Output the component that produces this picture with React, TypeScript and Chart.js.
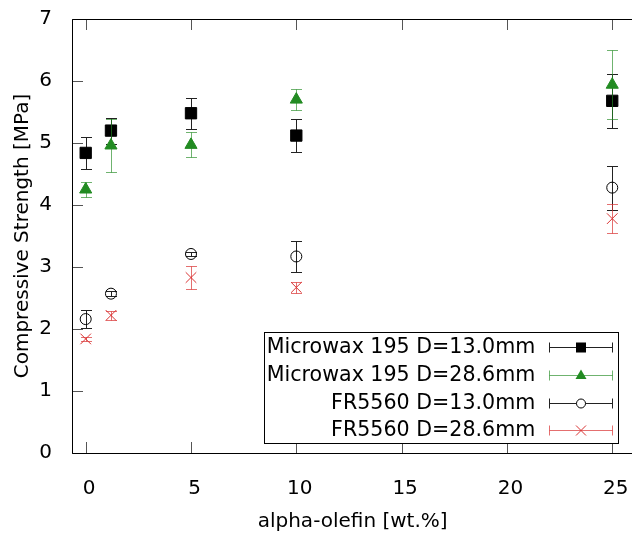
import React, { useEffect, useRef } from 'react';
import { Chart, registerables } from 'chart.js';

Chart.register(...registerables);

// ---- data ----
const xValues = [0, 1.2, 5, 10, 25];
const seriesLabels = [
  'Microwax 195 D=13.0mm',
  'Microwax 195 D=28.6mm',
  'FR5560 D=13.0mm',
  'FR5560 D=28.6mm',
];
const mw13Values = [4.84, 5.2, 5.48, 5.12, 5.68];
const mw13Errors = [0.26, 0.21, 0.25, 0.27, 0.43];
const mw286Values = [4.25, 4.96, 4.97, 5.7, 5.94];
const mw286Errors = [0.125, 0.42, 0.2, 0.17, 0.56];
const fr13Values = [2.16, 2.57, 3.21, 3.17, 4.28];
const fr13Errors = [0.145, 0.04, 0.04, 0.245, 0.355];
const fr286Values = [1.84, 2.22, 2.83, 2.67, 3.78];
const fr286Errors = [0.03, 0.075, 0.18, 0.095, 0.23];
const xAxisTitle = 'alpha-olefin [wt.%]';
const yAxisTitle = 'Compressive Strength [MPa]';

const FONT = "'DejaVu Sans', 'Liberation Sans', sans-serif";
const GREEN = '#228B22';
const RED = '#d93232';

function buildPoints(values: number[], errors: number[]) {
  return xValues.map((x, i) => ({ x, y: values[i], e: errors[i] }));
}

function drawMarker(ctx: CanvasRenderingContext2D, kind: string, x: number, y: number) {
  ctx.save();
  ctx.lineWidth = 1;
  if (kind === 'rect') {
    ctx.fillStyle = '#000';
    ctx.fillRect(x - 5, y - 5, 10, 10);
  } else if (kind === 'triangle') {
    ctx.fillStyle = GREEN;
    ctx.beginPath();
    ctx.moveTo(x, y - 6);
    ctx.lineTo(x + 5.5, y + 3.5);
    ctx.lineTo(x - 5.5, y + 3.5);
    ctx.closePath();
    ctx.fill();
  } else if (kind === 'circle') {
    ctx.strokeStyle = '#000';
    ctx.fillStyle = '#fff';
    ctx.beginPath();
    ctx.arc(x, y, 4.5, 0, Math.PI * 2);
    ctx.fill();
    ctx.stroke();
  } else {
    ctx.strokeStyle = RED;
    ctx.beginPath();
    ctx.moveTo(x - 5, y - 5);
    ctx.lineTo(x + 5, y + 5);
    ctx.moveTo(x + 5, y - 5);
    ctx.lineTo(x - 5, y + 5);
    ctx.stroke();
  }
  ctx.restore();
}

const errorBarPlugin = {
  id: 'errorBars',
  beforeDatasetDraw(chart: any, args: any) {
    const ds = chart.data.datasets[args.index];
    const meta = args.meta;
    const yScale = chart.scales.y;
    const ctx = chart.ctx as CanvasRenderingContext2D;
    ctx.save();
    ctx.strokeStyle = ds.errorColor;
    ctx.lineWidth = 1;
    meta.data.forEach((el: any, i: number) => {
      const raw = ds.data[i];
      const px = Math.round(el.x) + 0.5;
      const top = Math.round(yScale.getPixelForValue(raw.y + raw.e)) + 0.5;
      const bot = Math.round(yScale.getPixelForValue(raw.y - raw.e)) + 0.5;
      ctx.beginPath();
      ctx.moveTo(px, top);
      ctx.lineTo(px, bot);
      ctx.moveTo(px - 5.5, top);
      ctx.lineTo(px + 5.5, top);
      ctx.moveTo(px - 5.5, bot);
      ctx.lineTo(px + 5.5, bot);
      ctx.stroke();
    });
    ctx.restore();
  },
};

const framePlugin = {
  id: 'frame',
  afterDatasetsDraw(chart: any) {
    const { ctx, chartArea } = chart;
    const { left, right, top, bottom } = chartArea;
    const xs = chart.scales.x;
    const ys = chart.scales.y;
    const tl = 11;
    ctx.save();
    ctx.strokeStyle = '#555';
    ctx.lineWidth = 1;
    ctx.beginPath();
    xs.ticks.forEach((t: any) => {
      const px = Math.round(xs.getPixelForValue(t.value)) + 0.5;
      ctx.moveTo(px, bottom);
      ctx.lineTo(px, bottom - tl);
      ctx.moveTo(px, top);
      ctx.lineTo(px, top + tl);
    });
    ys.ticks.forEach((t: any) => {
      const py = Math.round(ys.getPixelForValue(t.value)) + 0.5;
      ctx.moveTo(left, py);
      ctx.lineTo(left + tl, py);
    });
    ctx.stroke();
    ctx.strokeStyle = '#000';
    const l = Math.round(left) + 0.5;
    const t0 = Math.round(top) + 0.5;
    const b = Math.round(bottom) + 0.5;
    const r = Math.round(right) + 0.5;
    ctx.beginPath();
    ctx.moveTo(r, t0);
    ctx.lineTo(l, t0);
    ctx.lineTo(l, b);
    ctx.lineTo(r, b);
    ctx.lineTo(r, t0);
    ctx.stroke();
    ctx.restore();
  },
};

const legendPlugin = {
  id: 'boxLegend',
  afterDraw(chart: any) {
    const { ctx, chartArea } = chart;
    const bx1 = chartArea.right - 16;
    const by1 = chartArea.bottom - 10;
    const bx0 = bx1 - 353.5;
    const by0 = by1 - 111;
    ctx.save();
    ctx.fillStyle = '#fff';
    ctx.fillRect(bx0, by0, bx1 - bx0, by1 - by0);
    ctx.strokeStyle = '#000';
    ctx.lineWidth = 1;
    ctx.strokeRect(Math.round(bx0) + 0.5, Math.round(by0) + 0.5, Math.round(bx1 - bx0), Math.round(by1 - by0));
    ctx.font = `20.6px ${FONT}`;
    ctx.textAlign = 'right';
    ctx.textBaseline = 'middle';
    chart.data.datasets.forEach((ds: any, i: number) => {
      const cy = Math.round(by0 + 15 + 27.8 * i) + 0.5;
      ctx.fillStyle = '#000';
      ctx.fillText(ds.label, bx1 - 82, cy);
      const s0 = Math.round(bx1 - 68.5) + 0.5;
      const s1 = Math.round(bx1 - 5.5) + 0.5;
      ctx.strokeStyle = ds.errorColor;
      ctx.beginPath();
      ctx.moveTo(s0, cy);
      ctx.lineTo(s1, cy);
      ctx.moveTo(s0, cy - 5);
      ctx.lineTo(s0, cy + 5);
      ctx.moveTo(s1, cy - 5);
      ctx.lineTo(s1, cy + 5);
      ctx.stroke();
      drawMarker(ctx, ds.legendMarker, (s0 + s1) / 2, cy);
    });
    ctx.restore();
  },
};

export default function App() {
  const canvasRef = useRef<HTMLCanvasElement | null>(null);

  useEffect(() => {
    if (!canvasRef.current) return;
    const tickFont = { family: FONT, size: 20 };
    const chart = new Chart(canvasRef.current, {
      type: 'scatter',
      data: {
        datasets: [
          {
            label: seriesLabels[0],
            data: buildPoints(mw13Values, mw13Errors),
            pointStyle: 'rect',
            pointRadius: 8,
            backgroundColor: '#000',
            borderColor: '#000',
            borderWidth: 1,
            errorColor: '#222',
            legendMarker: 'rect',
            order: 3,
          },
          {
            label: seriesLabels[1],
            data: buildPoints(mw286Values, mw286Errors),
            pointStyle: 'triangle',
            pointRadius: 7,
            backgroundColor: GREEN,
            borderColor: GREEN,
            borderWidth: 1,
            errorColor: 'rgba(34,139,34,0.65)',
            legendMarker: 'triangle',
            order: 2,
          },
          {
            label: seriesLabels[2],
            data: buildPoints(fr13Values, fr13Errors),
            pointStyle: 'circle',
            pointRadius: 5.5,
            backgroundColor: 'rgba(0,0,0,0)',
            borderColor: '#000',
            borderWidth: 1,
            errorColor: '#222',
            legendMarker: 'circle',
            order: 1,
          },
          {
            label: seriesLabels[3],
            data: buildPoints(fr286Values, fr286Errors),
            pointStyle: 'crossRot',
            pointRadius: 7.5,
            backgroundColor: RED,
            borderColor: RED,
            borderWidth: 1,
            errorColor: 'rgba(217,50,50,0.7)',
            legendMarker: 'cross',
            order: 0,
          },
        ] as any,
      },
      options: {
        animation: false,
        responsive: false,
        devicePixelRatio: 1,
        layout: { padding: { left: 0, top: 19, right: 26.7, bottom: 0 } },
        plugins: {
          legend: { display: false },
          tooltip: { enabled: false },
        },
        scales: {
          x: {
            type: 'linear',
            min: -0.65,
            max: 26,
            afterFit: (s: any) => {
              s.height = 82;
              s.paddingLeft = 0;
              s.paddingRight = 0;
            },
            grid: { display: false, drawTicks: false },
            border: { display: false },
            ticks: {
              stepSize: 5,
              includeBounds: false,
              autoSkip: false,
              maxRotation: 0,
              color: '#000',
              font: tickFont,
              padding: 24,
              labelOffset: 3.5,
            },
            title: {
              display: true,
              text: xAxisTitle,
              color: '#000',
              font: tickFont,
              padding: { top: 0, bottom: 1 },
            },
          },
          y: {
            type: 'linear',
            min: 0,
            max: 7,
            afterFit: (s: any) => {
              s.width = 72;
              s.paddingTop = 0;
              s.paddingBottom = 0;
            },
            grid: { display: false, drawTicks: false },
            border: { display: false },
            ticks: {
              stepSize: 1,
              color: '#000',
              font: tickFont,
              padding: 20,
            },
            title: {
              display: true,
              text: yAxisTitle,
              color: '#000',
              font: tickFont,
              padding: { top: 11, bottom: 0 },
            },
          },
        },
      } as any,
      plugins: [errorBarPlugin, framePlugin, legendPlugin],
    });
    return () => chart.destroy();
  }, []);

  return (
    <div
      style={{
        position: 'fixed',
        left: 0,
        top: 0,
        width: 632,
        height: 535,
        overflow: 'hidden',
        background: '#fff',
      }}
    >
      <canvas ref={canvasRef} width={660} height={535} style={{ display: 'block' }} />
    </div>
  );
}
